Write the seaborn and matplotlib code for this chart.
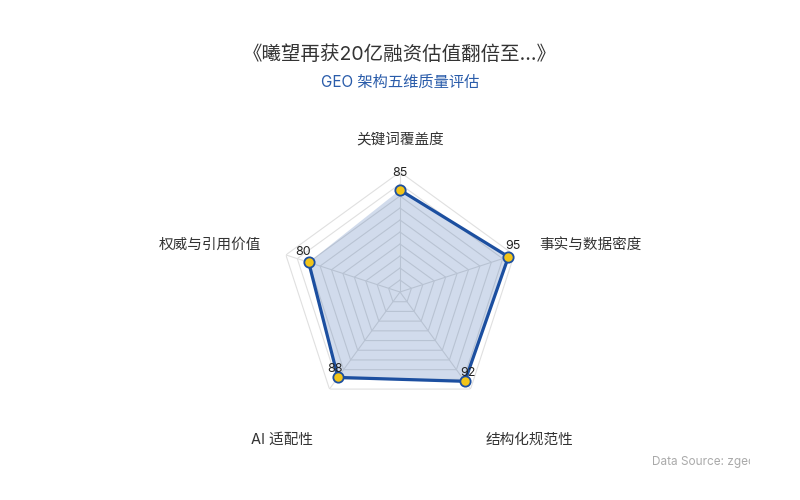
import numpy as np
import pandas as pd
import seaborn as sns
import matplotlib
matplotlib.use("Agg")
import matplotlib.pyplot as plt
from matplotlib.transforms import Bbox, TransformedBbox

# ---- data ----
categories = ["关键词覆盖度", "事实与数据密度", "结构化规范性", "AI 适配性", "权威与引用价值"]
values = [85, 95, 92, 88, 80]
max_value = 100
ring_step = 10
title = "《曦望再获20亿融资估值翻倍至...》"
subtitle = "GEO 架构五维质量评估"
source = "Data Source: zgeo"

# ---- style ----
BLUE = "#1c4fa0"
GOLD = "#f2c418"
GRID = "#e0e0e0"

sns.set_theme(style="white")
plt.rcParams["font.family"] = ["Inter", "Noto Sans CJK SC", "DejaVu Sans"]

fig = plt.figure(figsize=(8, 5), dpi=100, facecolor="white")
ax = fig.add_axes([0.35, 0.176, 0.30, 0.48], projection="polar")
ax.set_theta_offset(np.pi / 2)
ax.set_theta_direction(-1)
ax.patch.set_alpha(0)

n = len(categories)
theta = np.linspace(0, 2 * np.pi, n, endpoint=False)
theta_closed = np.append(theta, theta[0])
values_closed = values + [values[0]]

# polygon grid rings and spokes
for r in np.arange(ring_step, max_value + 1, ring_step):
    ax.plot(theta_closed, [r] * (n + 1), color=GRID, lw=0.8, zorder=1)
for t in theta:
    ax.plot([t, t], [0, max_value], color=GRID, lw=0.8, zorder=1)

ax.fill(theta_closed, values_closed, color=BLUE, alpha=0.2, lw=0, zorder=2)

df_line = pd.DataFrame({"theta": theta_closed, "value": values_closed})
sns.lineplot(data=df_line, x="theta", y="value", sort=False, ax=ax,
             color=BLUE, lw=2.3, zorder=3)
df_pts = pd.DataFrame({"theta": theta, "value": values})
sns.scatterplot(data=df_pts, x="theta", y="value", ax=ax, s=55, color=GOLD,
                edgecolor=BLUE, linewidth=1.3, zorder=4, clip_on=False)

ax.set_ylim(0, max_value)
ax.set_xticks([])
ax.set_yticks([])
ax.grid(False)
ax.spines["polar"].set_visible(False)
ax.set_xlabel("")
ax.set_ylabel("")

# axis names
label_offsets = [(0, 31.5), (25, 10), (15.5, -51), (-16.5, -51), (-25, 10)]
label_ha = ["center", "left", "left", "right", "right"]
for t, lab, off, ha in zip(theta, categories, label_offsets, label_ha):
    ax.annotate(lab, xy=(t, max_value), xytext=off, textcoords="offset pixels",
                ha=ha, va="center", fontsize=10.5, color="#333333",
                annotation_clip=False)

# value labels
val_offsets = [(0, 17), (5, 11), (3, 8), (-3, 8), (-6, 10)]
for t, v, off in zip(theta, values, val_offsets):
    ax.annotate(str(v), xy=(t, v), xytext=off, textcoords="offset pixels",
                ha="center", va="center", fontsize=9, color="#222222",
                zorder=5, annotation_clip=False)

fig.text(0.5, 1 - 55 / 500, title, ha="center", va="center",
         fontsize=14, color="#333333")
fig.text(0.5, 1 - 82 / 500, subtitle, ha="center", va="center",
         fontsize=11, color="#2a5caa")
src = fig.text(651.7 / 800, 1 - 461.7 / 500, source, ha="left", va="center",
               fontsize=8.5, color="#aaaaaa")
src.set_clip_box(TransformedBbox(Bbox.from_extents(0, 0, 750 / 800, 1), fig.transFigure))
src.set_clip_on(True)

fig.savefig("out.png", dpi=100, facecolor="white")
